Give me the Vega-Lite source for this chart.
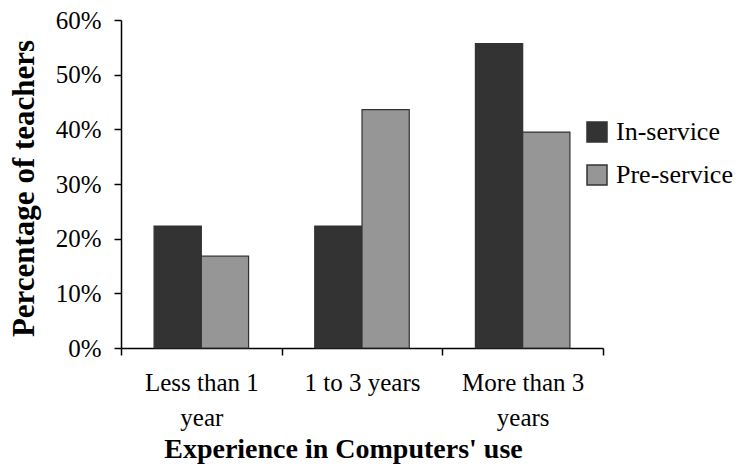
{
  "$schema": "https://vega.github.io/schema/vega-lite/v6.json",
  "autosize": "none",
  "width": 482,
  "height": 328,
  "padding": {"left": 121, "top": 20, "right": 142, "bottom": 118},
  "background": "white",
  "config": {
    "view": {"stroke": null},
    "font": "Liberation Serif"
  },
  "data": {
    "values": [
      {"experience": "Less than 1 year", "group": "In-service", "pct": 0.223},
      {"experience": "Less than 1 year", "group": "Pre-service", "pct": 0.168},
      {"experience": "1 to 3 years", "group": "In-service", "pct": 0.223},
      {"experience": "1 to 3 years", "group": "Pre-service", "pct": 0.436},
      {"experience": "More than 3 years", "group": "In-service", "pct": 0.557},
      {"experience": "More than 3 years", "group": "Pre-service", "pct": 0.395}
    ]
  },
  "mark": {"type": "bar", "stroke": "#333333", "strokeWidth": 1.2},
  "encoding": {
    "x": {
      "field": "experience",
      "type": "nominal",
      "sort": ["Less than 1 year", "1 to 3 years", "More than 3 years"],
      "scale": {"paddingInner": 0, "paddingOuter": 0},
      "axis": {
        "title": "Experience in Computers' use",
        "titleFont": "Liberation Serif",
        "titleFontSize": 28,
        "titleFontWeight": "bold",
        "titleColor": "black",
        "titleX": 222,
        "titleY": 109,
        "titleBaseline": "alphabetic",
        "titleAlign": "center",
        "labelAngle": 0,
        "labelFont": "Liberation Serif",
        "labelFontSize": 25,
        "labelColor": "black",
        "labelPadding": 15,
        "labelLineHeight": 35,
        "labelExpr": "datum.label == 'Less than 1 year' ? ['Less than 1', 'year'] : datum.label == 'More than 3 years' ? ['More than 3', 'years'] : datum.label",
        "tickBand": "extent",
        "tickSize": 7,
        "tickWidth": 1.5,
        "tickColor": "black",
        "domainColor": "black",
        "domainWidth": 1.5
      }
    },
    "xOffset": {
      "field": "group",
      "type": "nominal",
      "scale": {"paddingInner": 0, "paddingOuter": 0.7}
    },
    "y": {
      "field": "pct",
      "type": "quantitative",
      "scale": {"domain": [0, 0.6], "nice": false},
      "axis": {
        "title": "Percentage of teachers",
        "titleFont": "Liberation Serif",
        "titleFontSize": 31,
        "titleFontWeight": "bold",
        "titleColor": "black",
        "titleAngle": -90,
        "titleX": -88,
        "titleY": 168,
        "titleBaseline": "alphabetic",
        "titleAlign": "center",
        "values": [0, 0.1, 0.2, 0.3, 0.4, 0.5, 0.6],
        "format": ".0%",
        "grid": false,
        "labelFont": "Liberation Serif",
        "labelFontSize": 25,
        "labelColor": "black",
        "labelPadding": 13,
        "tickSize": 7,
        "tickWidth": 1.5,
        "tickColor": "black",
        "domainColor": "black",
        "domainWidth": 1.5
      }
    },
    "color": {
      "field": "group",
      "type": "nominal",
      "scale": {"domain": ["In-service", "Pre-service"], "range": ["#333333", "#969696"]},
      "legend": {
        "title": null,
        "orient": "none",
        "legendX": 463,
        "legendY": 99,
        "symbolType": "square",
        "symbolSize": 400,
        "symbolStrokeColor": "#333333",
        "symbolStrokeWidth": 1.5,
        "labelFont": "Liberation Serif",
        "labelFontSize": 26,
        "labelColor": "black",
        "labelOffset": 6,
        "rowPadding": 17
      }
    }
  }
}
